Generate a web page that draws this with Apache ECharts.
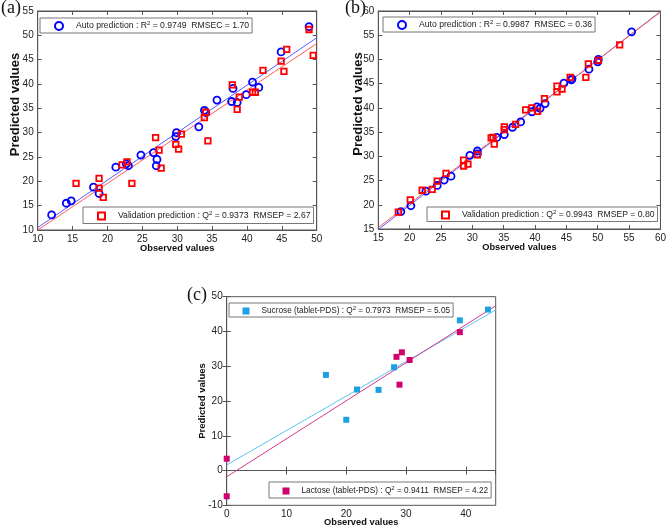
<!DOCTYPE html>
<html><head><meta charset="utf-8">
<script src="https://cdn.jsdelivr.net/npm/echarts@6/dist/echarts.min.js"></script>
<style>html,body{margin:0;padding:0;background:#fff}#c{width:669px;height:529px}</style>
</head><body><div id="c"></div>
<script>
// Panel (a)
var aAuto = [[12,13.1],[14.1,15.5],[14.8,16.0],[18.0,18.8],[18.8,17.5],[21.2,22.9],[22.7,23.6],[23.0,23.2],[24.8,25.4],[26.6,25.9],[27.1,24.5],[27.0,23.2],[29.9,30.0],[29.8,29.2],[33.1,31.2],[33.9,34.6],[34.1,34.1],[35.7,36.7],[37.8,36.4],[38.0,39.1],[38.6,36.2],[39.9,37.8],[40.8,40.4],[41.7,39.3],[44.9,46.6],[48.9,51.8]];
var aVal = [[15.5,19.6],[18.8,20.6],[18.8,18.6],[19.4,16.7],[22.1,23.4],[22.8,24.0],[23.5,19.6],[26.9,29.0],[27.4,26.4],[27.7,22.7],[29.8,27.6],[30.2,26.6],[30.6,29.7],[33.9,33.1],[34.1,34.2],[34.4,28.3],[37.9,39.8],[38.6,34.8],[38.9,37.3],[40.8,38.3],[41.2,38.3],[42.3,42.8],[44.9,44.7],[45.3,42.6],[45.7,47.1],[48.9,51.2],[49.5,45.9]];
var aAutoFit = [[10,10.5],[50,49.5]];
var aValFit = [[10,10.0],[50,48.3]];
// Panel (b)
var bAuto = [[18.6,18.6],[20.2,19.8],[22.6,22.8],[24.4,24.0],[25.5,25.1],[26.6,25.9],[29.6,30.2],[30.8,31.1],[30.8,30.5],[33.9,33.9],[35.1,34.5],[36.4,36.0],[37.7,37.1],[39.5,39.2],[40.3,40.2],[40.8,39.9],[41.6,40.9],[44.6,45.1],[45.9,46.0],[45.8,45.8],[48.6,48.0],[50.1,50.0],[50.0,49.5],[55.4,55.7]];
var bVal = [[18.2,18.5],[20.1,21.0],[22.0,23.0],[23.6,23.2],[24.4,24.9],[25.8,26.5],[28.6,29.2],[28.6,28.0],[29.3,28.4],[30.8,30.3],[33.0,33.8],[33.3,33.9],[33.5,32.5],[35.1,36.1],[35.1,35.5],[36.9,36.6],[38.5,39.6],[39.5,40.0],[40.4,39.3],[41.5,41.9],[43.5,44.5],[43.5,43.3],[44.3,43.9],[45.6,46.3],[48.1,46.3],[48.5,49.1],[50.1,49.8],[53.5,53.0]];
var bAutoFit = [[15,14.9],[60,59.9]];
var bValFit = [[15,15.3],[60,59.8]];
// Panel (c)
var cSuc = [[16.6,27.5],[21.8,23.3],[20.0,14.6],[25.4,23.2],[28.0,29.7],[39.0,43.2],[43.7,46.3]];
var cLac = [[0,3.4],[0,-7.4],[28.4,32.7],[29.3,34.0],[28.9,24.7],[30.6,31.8],[39.0,39.8]];
var cSucFit = [[0,1.6],[45,46.2]];
var cLacFit = [[0,-1.8],[45,47.4]];
var names = {
  aAuto:'Auto prediction a', aVal:'Validation prediction a',
  bAuto:'Auto prediction b', bVal:'Validation prediction b',
  cSuc:'Sucrose', cLac:'Lactose'
};
var legendTexts = {
  'Auto prediction a':'{g| }{t|Auto prediction : R}{s|2}{t| = 0.9749  RMSEC = 1.70}',
  'Validation prediction a':'{g| }{t|Validation prediction : Q}{s|2}{t| = 0.9373  RMSEP = 2.67}',
  'Auto prediction b':'{g| }{t|Auto prediction : R}{s|2}{t| = 0.9987  RMSEC = 0.36}',
  'Validation prediction b':'{g| }{t|Validation prediction : Q}{s|2}{t| = 0.9943  RMSEP = 0.80}',
  'Sucrose':'{g| }{t|Sucrose (tablet-PDS) : Q}{s|2}{t| = 0.7973  RMSEP = 5.05}',
  'Lactose':'{g| }{t|Lactose (tablet-PDS) : Q}{s|2}{t| = 0.9411  RMSEP = 4.22}'
};
var FONT = 'Liberation Sans';
var grids = [
  {left:37.7, top:11, width:279, height:219},
  {left:378.3, top:11, width:284, height:218},
  {left:226.7, top:296.7, width:269, height:208.6}
];
var ranges = [
  {xmin:10,xmax:50,xi:5,ymin:10,ymax:55,yi:5,xGap:14,yGap:16,yFs:13,yShift:32,xFs:9.3,showMax:true},
  {xmin:15,xmax:60,xi:5,ymin:15,ymax:60,yi:5,xGap:14,yGap:13,yFs:13,yShift:32,xFs:9.3,showMax:true},
  {xmin:0,xmax:45,xi:10,ymin:-10,ymax:50,yi:10,xGap:13,yGap:19,yFs:9.5,yShift:0,xFs:9.3,showMax:false}
];
var xAxes=[], yAxes=[];
ranges.forEach(function(r,i){
  var base = {min:r.xmin,max:r.xmax,interval:r.xi,gridIndex:i,splitLine:{show:false},
    axisLine:{lineStyle:{color:'#555',width:1}},axisTick:{inside:true,length:4,lineStyle:{color:'#555'}}};
  xAxes.push(Object.assign({}, base, {position:'bottom',name:'Observed values',nameLocation:'middle',nameGap:r.xGap,
    nameMoveOverlap:false,
    nameTextStyle:{fontFamily:FONT,fontWeight:'bold',fontSize:r.xFs,color:'#111'},
    axisLabel:{fontFamily:FONT,fontSize:10,color:'#222',margin:4,showMaxLabel:r.showMax}}));
  xAxes.push(Object.assign({}, base, {position:'top',axisLabel:{show:false}}));
  var ybase = {min:r.ymin,max:r.ymax,interval:r.yi,gridIndex:i,splitLine:{show:false},
    axisLine:{lineStyle:{color:'#555',width:1}},axisTick:{inside:true,length:4,lineStyle:{color:'#555'}}};
  yAxes.push(Object.assign({}, ybase, {position:'left',name:'Predicted values',nameLocation:'middle',nameGap:r.yGap,
    nameMoveOverlap:false,
    nameTextStyle:{fontFamily:FONT,fontWeight:'bold',fontSize:r.yFs,color:'#111',padding:[0,0,0,r.yShift]},
    axisLabel:{fontFamily:FONT,fontSize:10,color:'#222',margin:4}}));
  yAxes.push(Object.assign({}, ybase, {position:'right',axisLabel:{show:false}}));
});
function scat(name,data,gi,symbol,color,hollow,size){
  return {type:'scatter',name:name,data:data,xAxisIndex:gi*2,yAxisIndex:gi*2,symbol:symbol,symbolSize:size,
    itemStyle: hollow ? {color:'rgba(255,255,255,0)',borderColor:color,borderWidth:1.8,opacity:1}
                      : {color:color,borderWidth:0,opacity:1},
    z:3, animation:false};
}
function fit(name,data,gi,color){
  return {type:'line',name:name,data:data,xAxisIndex:gi*2,yAxisIndex:gi*2,symbol:'none',
    lineStyle:{color:color,width:1},z:2,animation:false,silent:true};
}
function richFor(fs,gap){
  return {g:{width:gap,fontSize:fs,lineHeight:12},
    t:{fontFamily:FONT,fontSize:fs,color:'#222',lineHeight:12},
    s:{fontFamily:FONT,fontSize:6,color:'#222',verticalAlign:'top',lineHeight:12}};
}
function leg(name,left,top,pad,icon,fs,gap){
  return {data:[name],left:left,top:top,orient:'horizontal',padding:pad,itemWidth:icon,itemHeight:icon,
    backgroundColor:'#fff',borderColor:'#777',borderWidth:1,borderRadius:0,selectedMode:false,
    formatter:function(n){return legendTexts[n];},textStyle:{rich:richFor(fs,gap)}};
}
var option = {
  animation:false,
  grid: grids.map(function(g){return Object.assign({show:true,borderColor:'#555',borderWidth:1,backgroundColor:'#fff'},g);}),
  xAxis:xAxes, yAxis:yAxes,
  legend:[
    leg(names.aAuto,40,18,[2,3,2,14],8,8.65,8),
    leg(names.aVal,83,207,[3,3,3,14],7,8.65,8),
    leg(names.bAuto,383,17,[2,3,2,14],8,8.65,8),
    leg(names.bVal,427,207,[2,3,2,14],7,8.65,8),
    leg(names.cSuc,229,303,[2,3,2,13.5],7,8.25,7),
    leg(names.cLac,269,482,[3,3,3,13.5],7,8.25,7)
  ],
  series:[
    fit('fa1',aAutoFit,0,'#5a5aff'), fit('fa2',aValFit,0,'#ff5a5a'),
    scat(names.aAuto,aAuto,0,'circle','#0000ff',true,7),
    scat(names.aVal,aVal,0,'rect','#ff0000',true,5.5),
    fit('fb1',bAutoFit,1,'#5a5aff'), fit('fb2',bValFit,1,'#ff5a5a'),
    scat(names.bAuto,bAuto,1,'circle','#0000ff',true,7),
    scat(names.bVal,bVal,1,'rect','#ff0000',true,5.5),
    fit('fc1',cSucFit,2,'#5cc6ee'), fit('fc2',cLacFit,2,'#d63a8c'),
    scat(names.cSuc,cSuc,2,'rect','#1ba1e2',false,6),
    scat(names.cLac,cLac,2,'rect','#d1006f',false,6)
  ],
  graphic:[
    {type:'text',left:1,top:-1,style:{text:'(a)',font:'18px "Liberation Serif"',fill:'#111'}},
    {type:'text',left:345,top:-1,style:{text:'(b)',font:'18px "Liberation Serif"',fill:'#111'}},
    {type:'text',left:187,top:286,style:{text:'(c)',font:'18px "Liberation Serif"',fill:'#111'}}
  ]
};
var chart = echarts.init(document.getElementById('c'),null,{renderer:'canvas'});
chart.setOption(option);
</script></body></html>
